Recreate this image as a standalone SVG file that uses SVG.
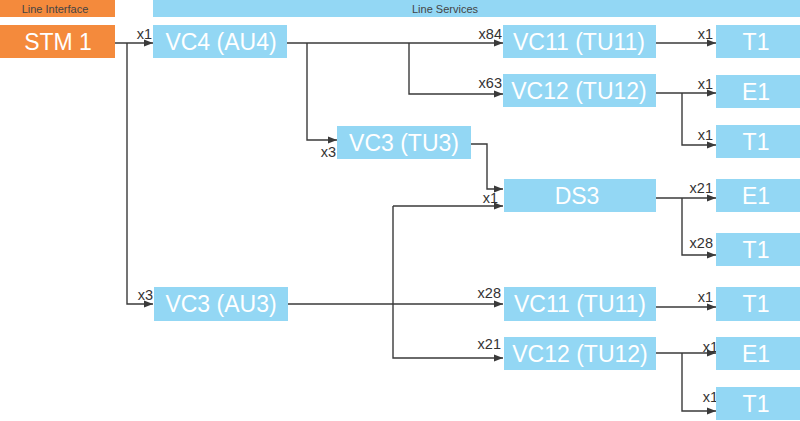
<svg xmlns="http://www.w3.org/2000/svg" width="800" height="421" viewBox="0 0 800 421">
<defs>
<style>
.or{fill:#F48A3C}
.bl{fill:#93D7F4}
.nt{font-family:"Liberation Sans",Arial,sans-serif;font-size:23px;fill:#fff;text-anchor:middle}
.ht{font-family:"Liberation Sans",Arial,sans-serif;font-size:11px;fill:#444;text-anchor:middle}
.lb{font-family:"Liberation Sans",Arial,sans-serif;font-size:14.5px;fill:#333;text-anchor:end}
.cn{fill:none;stroke:#3a3a3a;stroke-width:1.4}
</style>
<marker id="ar" markerUnits="userSpaceOnUse" markerWidth="9" markerHeight="8" refX="9" refY="4" orient="auto">
<path d="M0,0.5 L9,4 L0,7.5 z" fill="#3a3a3a"/>
</marker>
</defs>
<rect width="800" height="421" fill="#fff"/>
<g id="hdr-line-interface"><rect class="or" x="0" y="0" width="115" height="17"/><text class="ht" x="55" y="13">Line Interface</text></g>
<g id="hdr-line-services"><rect class="bl" x="153" y="0" width="647" height="17"/><text class="ht" x="445" y="13">Line Services</text></g>

<g id="connectors">
<path class="cn" d="M115,43 H153" marker-end="url(#ar)"/>
<path class="cn" d="M127,43 V304 H153" marker-end="url(#ar)"/>
<path class="cn" d="M287,43 H503" marker-end="url(#ar)"/>
<path class="cn" d="M307,43 V140 H337" marker-end="url(#ar)"/>
<path class="cn" d="M409,43 V94 H503" marker-end="url(#ar)"/>
<path class="cn" d="M471,144 H487 V189 H503" marker-end="url(#ar)"/>
<path class="cn" d="M288,304 H503" marker-end="url(#ar)"/>
<path class="cn" d="M393,206 H503" marker-end="url(#ar)"/>
<path class="cn" d="M393,206 V358 H503" marker-end="url(#ar)"/>
<path class="cn" d="M656,43 H716" marker-end="url(#ar)"/>
<path class="cn" d="M656,93 H716" marker-end="url(#ar)"/>
<path class="cn" d="M682,93 V145 H716" marker-end="url(#ar)"/>
<path class="cn" d="M656,198 H716" marker-end="url(#ar)"/>
<path class="cn" d="M682,198 V255 H716" marker-end="url(#ar)"/>
<path class="cn" d="M656,307 H716" marker-end="url(#ar)"/>
<path class="cn" d="M656,353 H716" marker-end="url(#ar)"/>
<path class="cn" d="M682,353 V411 H716" marker-end="url(#ar)"/>
<text class="lb" x="152" y="39">x1</text>
<text class="lb" x="153" y="300">x3</text>
<text class="lb" x="502" y="39">x84</text>
<text class="lb" x="502" y="88">x63</text>
<text class="lb" x="336" y="157">x3</text>
<text class="lb" x="498" y="203">x1</text>
<text class="lb" x="501" y="298">x28</text>
<text class="lb" x="501" y="349">x21</text>
<text class="lb" x="713" y="39">x1</text>
<text class="lb" x="713" y="89">x1</text>
<text class="lb" x="713" y="140">x1</text>
<text class="lb" x="713" y="193">x21</text>
<text class="lb" x="713" y="248">x28</text>
<text class="lb" x="713" y="302">x1</text>
<text class="lb" x="718" y="352">x1</text>
<text class="lb" x="718" y="402">x1</text>
</g>

<g id="stm1"><rect class="or" x="0" y="25" width="115" height="33"/><text class="nt" x="58" y="50">STM 1</text></g>
<g id="vc4-au4"><rect class="bl" x="153" y="25" width="134" height="33"/><text class="nt" x="221" y="50">VC4 (AU4)</text></g>
<g id="vc3-tu3"><rect class="bl" x="337" y="126" width="134" height="33"/><text class="nt" x="404" y="151">VC3 (TU3)</text></g>
<g id="vc3-au3"><rect class="bl" x="154" y="287" width="134" height="34"/><text class="nt" x="221" y="312">VC3 (AU3)</text></g>
<g id="vc11-top"><rect class="bl" x="503" y="25" width="153" height="33"/><text class="nt" x="579" y="50">VC11 (TU11)</text></g>
<g id="vc12-top"><rect class="bl" x="503" y="74" width="153" height="33"/><text class="nt" x="579" y="99">VC12 (TU12)</text></g>
<g id="ds3"><rect class="bl" x="504" y="179" width="152" height="33"/><text class="nt" x="577" y="204">DS3</text></g>
<g id="vc11-bottom"><rect class="bl" x="504" y="287" width="152" height="34"/><text class="nt" x="580" y="312">VC11 (TU11)</text></g>
<g id="vc12-bottom"><rect class="bl" x="504" y="337" width="152" height="33"/><text class="nt" x="580" y="362">VC12 (TU12)</text></g>
<g id="t1-a"><rect class="bl" x="716" y="25" width="84" height="33"/><text class="nt" x="756" y="50">T1</text></g>
<g id="e1-a"><rect class="bl" x="716" y="75" width="84" height="33"/><text class="nt" x="756" y="100">E1</text></g>
<g id="t1-b"><rect class="bl" x="716" y="125" width="84" height="33"/><text class="nt" x="756" y="150">T1</text></g>
<g id="e1-b"><rect class="bl" x="716" y="179" width="84" height="33"/><text class="nt" x="756" y="204">E1</text></g>
<g id="t1-c"><rect class="bl" x="716" y="233" width="84" height="33"/><text class="nt" x="756" y="258">T1</text></g>
<g id="t1-d"><rect class="bl" x="716" y="287" width="84" height="34"/><text class="nt" x="756" y="312">T1</text></g>
<g id="e1-c"><rect class="bl" x="716" y="337" width="84" height="33"/><text class="nt" x="756" y="362">E1</text></g>
<g id="t1-e"><rect class="bl" x="716" y="387" width="84" height="33"/><text class="nt" x="756" y="412">T1</text></g>
</svg>
